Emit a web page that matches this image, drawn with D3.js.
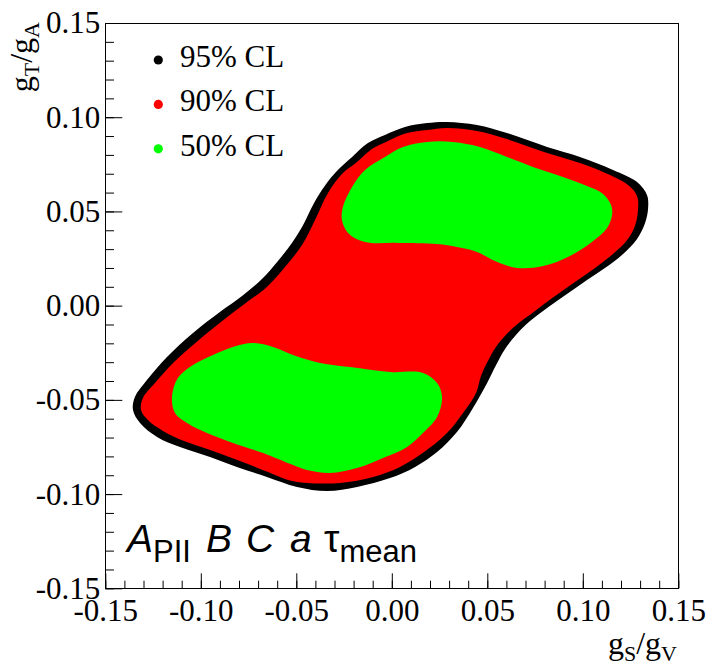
<!DOCTYPE html>
<html><head><meta charset="utf-8">
<script src="https://cdn.jsdelivr.net/npm/d3@7"></script>
<style>body{margin:0;background:#fff}</style>
</head><body>
<svg id="c" width="710" height="666"></svg>
<script>
// ---- data (g_S/g_V , g_T/g_A) ----
const xTicks = [-0.15, -0.10, -0.05, 0.00, 0.05, 0.10, 0.15];
const xTickLabels = ["-0.15", "-0.10", "-0.05", "0.00", "0.05", "0.10", "0.15"];
const yTicks = [-0.15, -0.10, -0.05, 0.00, 0.05, 0.10, 0.15];
const yTickLabels = ["-0.15", "-0.10", "-0.05", "0.00", "0.05", "0.10", "0.15"];

const legendLabels = ["95% CL", "90% CL", "50% CL"];
const legendColors = ["#000000", "#ff0000", "#00ff00"];

// 95% CL contour
const cl95 = [
  [-0.0208,0.0789],[-0.0125,0.0863],[-0.0036,0.0906],[0.0069,0.0948],[0.0184,0.0969],
  [0.0289,0.0975],[0.0446,0.0959],[0.0603,0.0916],[0.0813,0.0842],[0.0985,0.0789],
  [0.1158,0.0720],[0.1284,0.0656],[0.1336,0.0587],[0.1342,0.0518],[0.1326,0.0439],
  [0.1284,0.0354],[0.1205,0.0269],[0.1116,0.0200],[0.1022,0.0136],[0.0917,0.0062],
  [0.0813,-0.0013],[0.0724,-0.0082],[0.0650,-0.0156],[0.0593,-0.0230],[0.0546,-0.0315],
  [0.0499,-0.0411],[0.0425,-0.0543],[0.0341,-0.0671],[0.0237,-0.0777],[0.0122,-0.0856],
  [-0.0009,-0.0915],[-0.0182,-0.0962],[-0.0339,-0.0984],[-0.0496,-0.0962],[-0.0654,-0.0909],
  [-0.0811,-0.0856],[-0.0952,-0.0803],[-0.1109,-0.0750],[-0.1229,-0.0697],[-0.1318,-0.0623],
  [-0.1355,-0.0554],[-0.1345,-0.0485],[-0.1282,-0.0395],[-0.1177,-0.0273],[-0.1041,-0.0145],
  [-0.0900,-0.0034],[-0.0784,0.0051],[-0.0680,0.0141],[-0.0596,0.0237],[-0.0523,0.0333],
  [-0.0470,0.0417],[-0.0418,0.0524],[-0.0366,0.0614],[-0.0297,0.0704]
];
// 90% CL contour
const cl90 = [
  [-0.0182,0.0762],[-0.0104,0.0831],[-0.0020,0.0874],[0.0080,0.0916],[0.0184,0.0932],
  [0.0289,0.0943],[0.0446,0.0927],[0.0603,0.0884],[0.0813,0.0810],[0.0985,0.0757],
  [0.1143,0.0693],[0.1237,0.0640],[0.1284,0.0582],[0.1289,0.0508],[0.1273,0.0423],
  [0.1232,0.0348],[0.1158,0.0274],[0.1064,0.0200],[0.0959,0.0126],[0.0855,0.0051],
  [0.0750,-0.0028],[0.0640,-0.0113],[0.0556,-0.0204],[0.0509,-0.0283],[0.0467,-0.0373],
  [0.0441,-0.0464],[0.0373,-0.0570],[0.0289,-0.0676],[0.0169,-0.0777],[0.0043,-0.0856],
  [-0.0098,-0.0909],[-0.0271,-0.0941],[-0.0444,-0.0941],[-0.0544,-0.0925],[-0.0648,-0.0883],
  [-0.0795,-0.0824],[-0.0936,-0.0771],[-0.1088,-0.0718],[-0.1198,-0.0665],[-0.1277,-0.0607],
  [-0.1313,-0.0554],[-0.1303,-0.0490],[-0.1240,-0.0411],[-0.1140,-0.0299],[-0.1010,-0.0182],
  [-0.0868,-0.0066],[-0.0758,0.0019],[-0.0654,0.0099],[-0.0559,0.0205],[-0.0470,0.0322],
  [-0.0402,0.0455],[-0.0334,0.0598],[-0.0261,0.0699]
];
// 50% CL contour, upper island
const cl50a = [
  [-0.0261,0.0455],[-0.0256,0.0524],[-0.0208,0.0630],[-0.0140,0.0720],[-0.0036,0.0789],
  [0.0059,0.0842],[0.0184,0.0869],[0.0320,0.0869],[0.0462,0.0842],[0.0603,0.0789],
  [0.0739,0.0736],[0.0896,0.0683],[0.1022,0.0635],[0.1106,0.0593],[0.1148,0.0534],
  [0.1153,0.0481],[0.1127,0.0412],[0.1048,0.0338],[0.0933,0.0264],[0.0792,0.0210],
  [0.0656,0.0200],[0.0540,0.0237],[0.0446,0.0285],[0.0341,0.0311],[0.0237,0.0327],
  [0.0027,0.0333],[-0.0140,0.0338],[-0.0229,0.0386]
];
// 50% CL contour, lower island
const cl50b = [
  [-0.1151,-0.0485],[-0.1120,-0.0384],[-0.1041,-0.0315],[-0.0936,-0.0262],[-0.0832,-0.0219],
  [-0.0727,-0.0198],[-0.0622,-0.0219],[-0.0517,-0.0262],[-0.0376,-0.0304],[-0.0219,-0.0326],
  [-0.0009,-0.0352],[0.0163,-0.0357],[0.0237,-0.0411],[0.0263,-0.0485],[0.0237,-0.0591],
  [0.0163,-0.0676],[0.0080,-0.0750],[-0.0046,-0.0809],[-0.0182,-0.0862],[-0.0324,-0.0888],
  [-0.0444,-0.0872],[-0.0517,-0.0846],[-0.0674,-0.0782],[-0.0832,-0.0729],[-0.0968,-0.0676],
  [-0.1072,-0.0623],[-0.1135,-0.0570]
];

// ---- drawing ----
const W = 710, H = 666;
const frame = {l: 105.3, r: 678.3, t: 23, b: 588.3};
const serif = "'Liberation Serif','Times New Roman',Times,serif";
const sans = "'Liberation Sans',Arial,Helvetica,sans-serif";

const svg = d3.select("#c");
svg.append("rect").attr("width", W).attr("height", H).attr("fill", "#fff");

const x = d3.scaleLinear().domain([-0.15, 0.15]).range([frame.l, frame.r]);
const y = d3.scaleLinear().domain([-0.15, 0.15]).range([frame.b, frame.t]);

const line = d3.line()
  .x(d => x(d[0])).y(d => y(d[1]))
  .curve(d3.curveCatmullRomClosed.alpha(0.5));

const regions = [
  {pts: cl95, color: legendColors[0]},
  {pts: cl90, color: legendColors[1]},
  {pts: cl50a, color: legendColors[2]},
  {pts: cl50b, color: legendColors[2]}
];
svg.append("g").selectAll("path").data(regions).join("path")
  .attr("d", d => line(d.pts))
  .attr("fill", d => d.color)
  .attr("stroke", "none");

// frame
svg.append("rect")
  .attr("x", Math.round(frame.l) + 0.5).attr("y", Math.round(frame.t) + 0.5)
  .attr("width", Math.round(frame.r) - Math.round(frame.l))
  .attr("height", Math.round(frame.b) - Math.round(frame.t))
  .attr("fill", "none").attr("stroke", "#000").attr("stroke-width", 1);

const minor = d3.range(-15, 16).map(v => v / 100);
function styleAxis(g) {
  g.select(".domain").remove();
  g.attr("font-family", serif).attr("font-size", 31);
  g.selectAll("line").attr("stroke", "#000");
  g.selectAll("text").attr("fill", "#000");
}
// x axis
svg.append("g").attr("transform", `translate(0,${frame.b})`)
  .call(d3.axisBottom(x).tickValues(minor).tickSize(-7.6).tickFormat(""))
  .call(styleAxis);
svg.append("g").attr("transform", `translate(0,${frame.b})`)
  .call(d3.axisBottom(x).tickValues(xTicks).tickSize(-15).tickPadding(10.5)
    .tickFormat((d, i) => xTickLabels[i]))
  .call(styleAxis);
// y axis
svg.append("g").attr("transform", `translate(${frame.l},0)`)
  .call(d3.axisLeft(y).tickValues(minor).tickSize(-8.7).tickFormat(""))
  .call(styleAxis);
svg.append("g").attr("transform", `translate(${frame.l},0)`)
  .call(d3.axisLeft(y).tickValues(yTicks).tickSize(-17).tickPadding(5)
    .tickFormat((d, i) => yTickLabels[i]))
  .call(styleAxis);

// axis titles
const xt = svg.append("text").attr("x", 677).attr("y", 654)
  .attr("text-anchor", "end").attr("font-family", serif).attr("font-size", 32).attr("fill", "#000");
xt.append("tspan").text("g");
xt.append("tspan").attr("font-size", 22).attr("dy", 7).text("S");
xt.append("tspan").attr("dy", -7).text("/g");
xt.append("tspan").attr("font-size", 22).attr("dy", 7).text("V");

const yt = svg.append("text").attr("transform", "translate(32,22) rotate(-90)")
  .attr("text-anchor", "end").attr("font-family", serif).attr("font-size", 32).attr("fill", "#000");
yt.append("tspan").text("g");
yt.append("tspan").attr("font-size", 22).attr("dy", 7).text("T");
yt.append("tspan").attr("dy", -7).text("/g");
yt.append("tspan").attr("font-size", 22).attr("dy", 7).text("A");

// legend
const leg = svg.append("g").selectAll("g").data(legendLabels).join("g")
  .attr("transform", (d, i) => `translate(0,${60 + i * 44.4})`);
leg.append("circle").attr("cx", 158.3).attr("cy", 0).attr("r", 4.6)
  .attr("fill", (d, i) => legendColors[i]);
leg.append("text").attr("x", 180).attr("y", 7)
  .attr("font-family", serif).attr("font-size", 31).attr("fill", "#000")
  .text(d => d);

// annotation
const ann = svg.append("text").attr("y", 552).attr("font-family", sans)
  .attr("font-size", 39).attr("fill", "#000");
ann.append("tspan").attr("x", 127).attr("font-style", "italic").text("A");
ann.append("tspan").attr("font-size", 31).attr("dy", 10).text("PII");
ann.append("tspan").attr("x", 206).attr("dy", -10).attr("font-style", "italic").text("B");
ann.append("tspan").attr("x", 246).attr("font-style", "italic").text("C");
ann.append("tspan").attr("x", 290).attr("font-style", "italic").text("a");
ann.append("tspan").attr("x", 324).text("τ");
ann.append("tspan").attr("font-size", 31).attr("dy", 10).text("mean");
</script>
</body></html>
